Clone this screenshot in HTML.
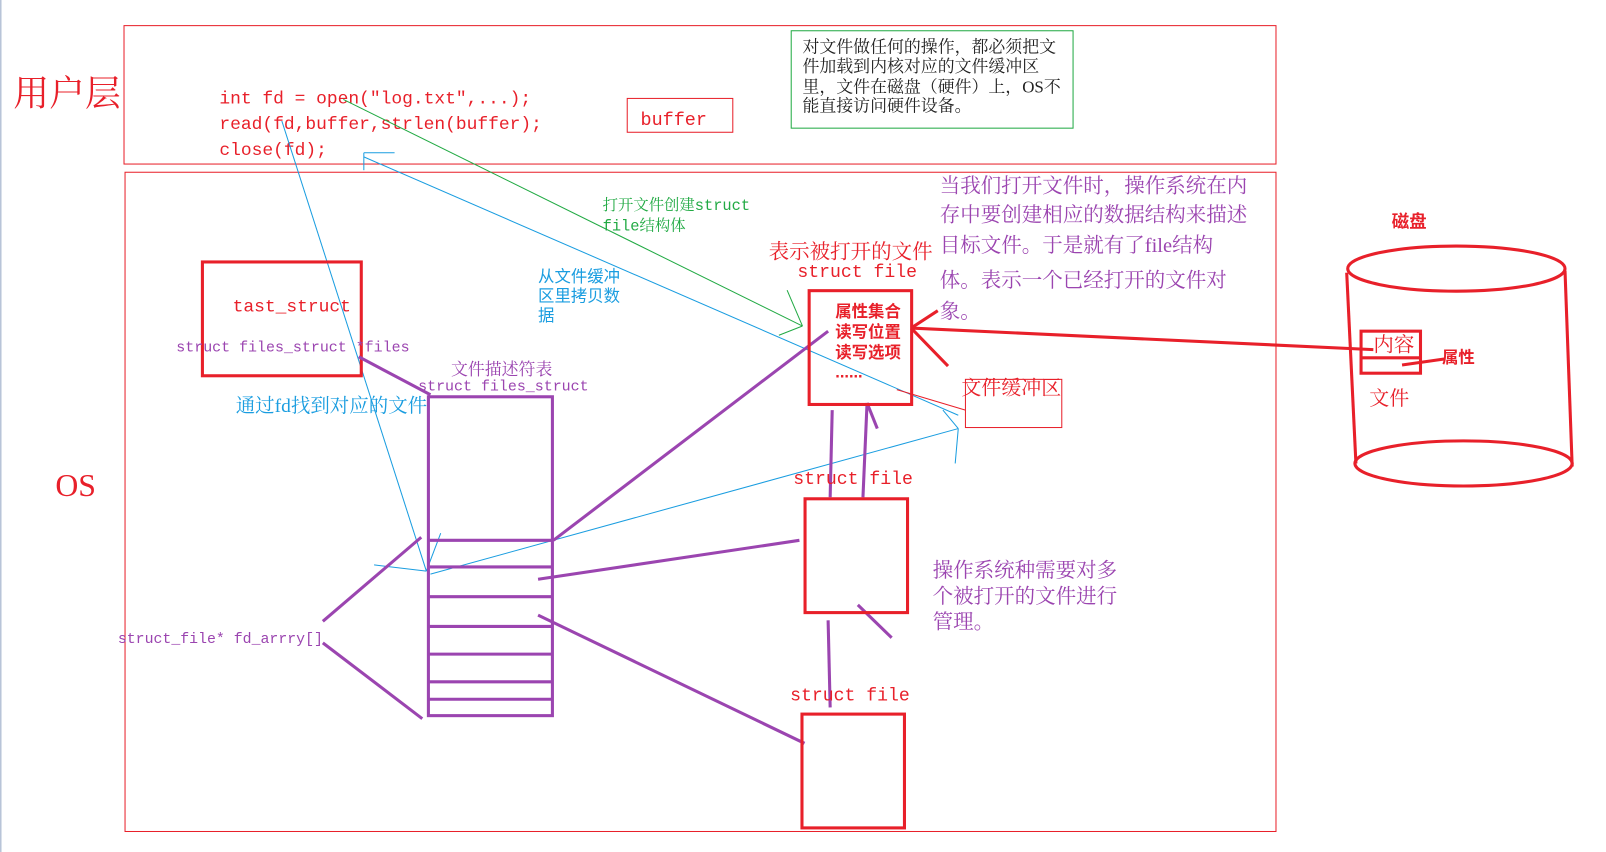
<!DOCTYPE html>
<html><head><meta charset="utf-8"><style>
html,body{margin:0;padding:0;background:#fff;}
svg{display:block}
.m{font-family:"Liberation Mono","Noto Serif CJK SC",monospace;}
.c{font-family:"Liberation Serif","Noto Serif CJK SC",serif;}
.s{font-family:"Liberation Sans","Noto Sans CJK SC",sans-serif;}
</style></head><body>
<svg width="1606" height="852" viewBox="0 0 1567 831" preserveAspectRatio="none" xmlns="http://www.w3.org/2000/svg">
<rect x="0" y="0" width="1567" height="831" fill="#fff"/>
<line x1="0.5" y1="0" x2="0.5" y2="831" stroke="#b8c4d8" stroke-width="2"/>
<rect x="121" y="25" width="1124" height="135" fill="none" stroke="#e8202a" stroke-width="1"/>
<rect x="122" y="168" width="1123" height="643" fill="none" stroke="#e8202a" stroke-width="1"/>
<text x="13" y="103" class="c" font-size="35" fill="#e8202a">用户层</text>
<text x="54" y="484" class="c" font-size="31" fill="#e8202a">OS</text>
<g class="m" font-size="17.5" fill="#e8202a">
<text x="214" y="101">int fd = open("log.txt",...);</text>
<text x="214" y="126">read(fd,buffer,strlen(buffer);</text>
<text x="214" y="151">close(fd);</text>
<text x="625" y="122" font-size="18">buffer</text>
</g>
<rect x="612" y="96" width="103" height="33" fill="none" stroke="#e8202a" stroke-width="1"/>
<rect x="772" y="30" width="275" height="95" fill="none" stroke="#22aa44" stroke-width="1"/>
<g class="c" font-size="16.5" fill="#222">
<text x="783" y="51">对文件做任何的操作，都必须把文</text>
<text x="783" y="70">件加载到内核对应的文件缓冲区</text>
<text x="783" y="90">里，文件在磁盘（硬件）上，OS不</text>
<text x="783" y="109">能直接访问硬件设备。</text>
</g>
<g stroke="#22aa44" stroke-width="1" fill="none">
<line x1="335" y1="97" x2="783" y2="318"/>
<line x1="768" y1="283" x2="783" y2="318"/>
<line x1="760" y1="327" x2="783" y2="318"/>
</g>
<g class="m" font-size="15" fill="#22aa44"><text x="588" y="205">打开文件创建struct</text><text x="588" y="225">file结构体</text></g>
<g stroke="#1a9de0" stroke-width="1" fill="none">
<line x1="355" y1="149" x2="385" y2="149"/>
<line x1="355" y1="149" x2="355" y2="166"/>
<line x1="355" y1="153" x2="935" y2="405"/>
<line x1="935" y1="418" x2="420" y2="560"/>
<line x1="935" y1="418" x2="920" y2="400"/>
<line x1="935" y1="418" x2="932" y2="452"/>
<line x1="275" y1="118" x2="416" y2="557"/>
<line x1="416" y1="557" x2="430" y2="520"/>
<line x1="416" y1="557" x2="365" y2="551"/>
</g>
<g class="s" font-size="16" fill="#1a9de0"><text x="525" y="275">从文件缓冲</text><text x="525" y="294">区里拷贝数</text><text x="525" y="313">据</text></g>
<text x="230" y="402" class="c" font-size="19" fill="#1a9de0">通过fd找到对应的文件</text>
<rect x="197.5" y="255.5" width="155" height="111" fill="none" stroke="#e8202a" stroke-width="3"/>
<text x="227" y="304" class="m" font-size="17.5" fill="#e8202a">tast_struct</text>
<text x="172" y="343" class="m" font-size="14.6" fill="#9b45b0">struct files_struct *files</text>
<text x="440" y="366" class="c" font-size="16.5" fill="#9b45b0">文件描述符表</text>
<text x="408" y="381" class="m" font-size="14.6" fill="#9b45b0">struct files_struct</text>
<g stroke="#9b45b0" stroke-width="3" fill="none">
<rect x="418" y="387" width="121" height="311"/>
<line x1="418" y1="527" x2="539" y2="527"/>
<line x1="418" y1="553" x2="539" y2="553"/>
<line x1="418" y1="582" x2="539" y2="582"/>
<line x1="418" y1="611" x2="539" y2="611"/>
<line x1="418" y1="638" x2="539" y2="638"/>
<line x1="418" y1="665" x2="539" y2="665"/>
<line x1="418" y1="682" x2="539" y2="682"/>
<line x1="350" y1="348" x2="420" y2="385"/>
<line x1="315" y1="606" x2="411" y2="524"/>
<line x1="315" y1="627" x2="412" y2="701"/>
<line x1="540" y1="527" x2="808" y2="323"/>
<line x1="525" y1="565" x2="780" y2="527"/>
<line x1="525" y1="600" x2="785" y2="725"/>
<line x1="812" y1="400" x2="810" y2="485"/>
<line x1="842" y1="485" x2="846" y2="393"/>
<line x1="846" y1="393" x2="856" y2="418"/>
<line x1="808" y1="605" x2="810" y2="690"/>
<line x1="837" y1="590" x2="870" y2="622"/>
</g>
<text x="115" y="627" class="m" font-size="14.5" fill="#9b45b0">struct_file* fd_arrry[]</text>
<g stroke="#e8202a" stroke-width="3" fill="none">
<rect x="789.5" y="283.5" width="100" height="111"/>
<rect x="785.5" y="486.5" width="100" height="111"/>
<rect x="782.5" y="696.5" width="100" height="111"/>
<line x1="889" y1="320" x2="915" y2="303"/>
<line x1="889" y1="320" x2="925" y2="357"/>
<line x1="889" y1="320" x2="1340" y2="341"/>
</g>
<line x1="875" y1="380" x2="942" y2="400" stroke="#e8202a" stroke-width="1"/>
<rect x="942" y="370" width="94" height="47" fill="none" stroke="#e8202a" stroke-width="1"/>
<text x="938" y="385" class="c" font-size="19.5" fill="#e8202a">文件缓冲区</text>
<text x="750" y="252" class="c" font-size="20" fill="#e8202a">表示被打开的文件</text>
<g class="m" font-size="17.7" fill="#e8202a">
<text x="778" y="270">struct file</text>
<text x="774" y="472">struct file</text>
<text x="771" y="683">struct file</text>
</g>
<g class="s" font-size="16" font-weight="bold" fill="#e8202a">
<text x="815" y="309">属性集合</text><text x="815" y="329">读写位置</text><text x="815" y="349">读写选项</text><text x="815" y="368">......</text>
</g>
<g class="c" font-size="20" fill="#9b45b0">
<text x="910" y="563">操作系统种需要对多</text>
<text x="910" y="588">个被打开的文件进行</text>
<text x="910" y="613">管理。</text>
</g>
<g class="c" font-size="20" fill="#9b45b0">
<text x="917" y="188">当我们打开文件时，操作系统在内</text>
<text x="917" y="216">存中要创建相应的数据结构来描述</text>
<text x="917" y="246">目标文件。于是就有了file结构</text>
<text x="917" y="280">体。表示一个已经打开的文件对</text>
<text x="917" y="310">象。</text>
</g>
<g stroke="#e8202a" stroke-width="3" fill="none">
<ellipse cx="1421" cy="262" rx="106" ry="22"/>
<ellipse cx="1428" cy="452" rx="106" ry="22"/>
<line x1="1314" y1="266" x2="1323" y2="452"/>
<line x1="1527" y1="264" x2="1534" y2="455"/>
<rect x="1328" y="323" width="58" height="41"/>
<line x1="1328" y1="349" x2="1386" y2="349"/>
<line x1="1368" y1="356" x2="1410" y2="350"/>
</g>
<text x="1358" y="222" class="s" font-size="17" font-weight="bold" fill="#e8202a">磁盘</text>
<text x="1340" y="343" class="c" font-size="20" fill="#e8202a">内容</text>
<text x="1407" y="354" class="s" font-size="16" font-weight="bold" fill="#e8202a">属性</text>
<text x="1336" y="395" class="c" font-size="19.5" fill="#e8202a">文件</text>
</svg>
</body></html>
